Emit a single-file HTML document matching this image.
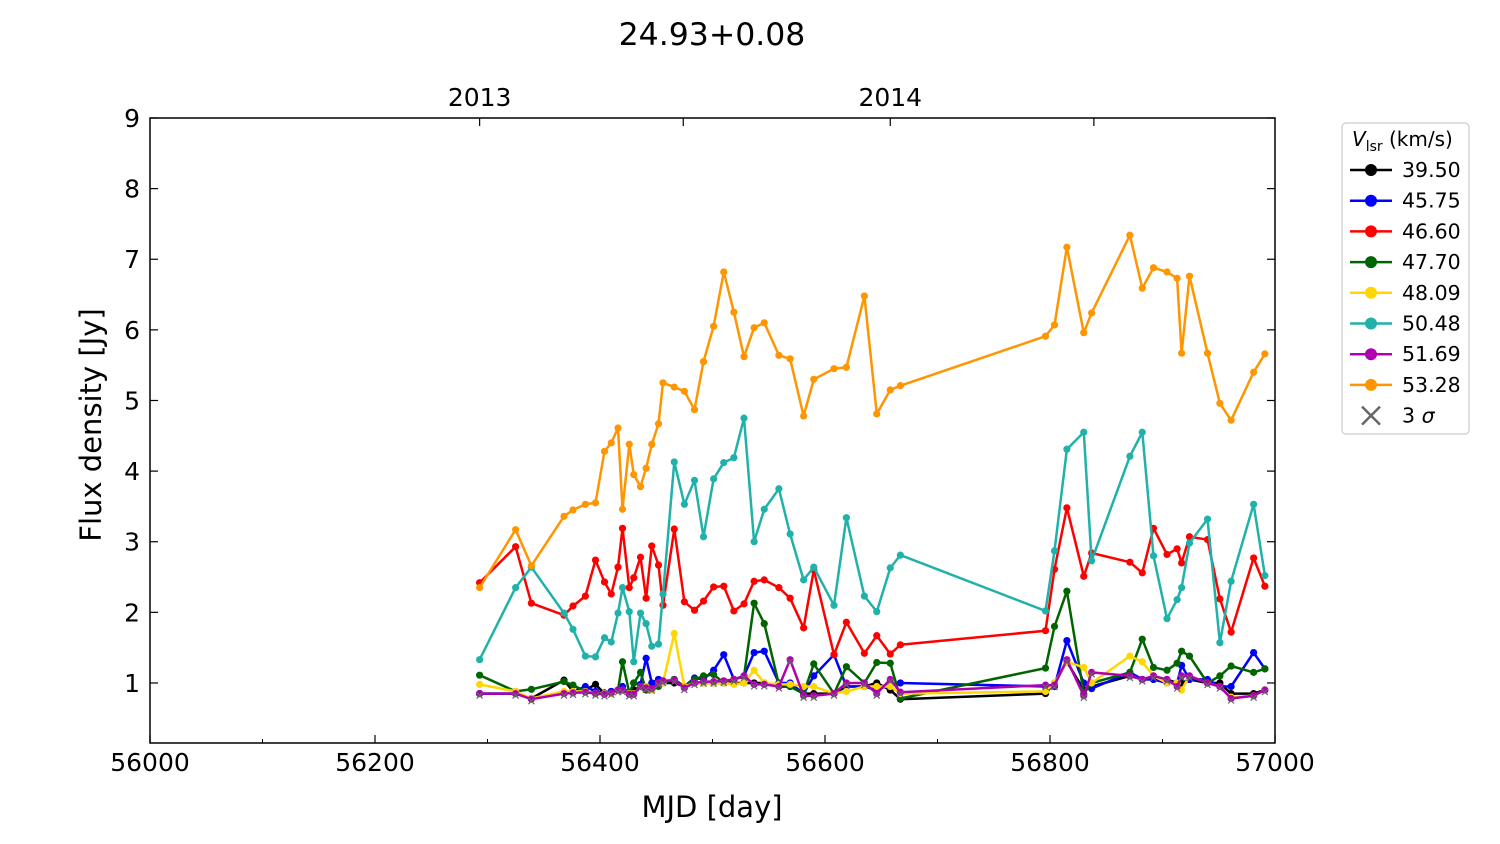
<!DOCTYPE html>
<html><head><meta charset="utf-8"><style>
html,body{margin:0;padding:0;background:#fff;}
svg{display:block;font-family:"DejaVu Sans","Liberation Sans",sans-serif;}
</style></head><body>
<svg id="chart" width="1500" height="844" viewBox="0 0 1500 844"></svg>
<script>
const mjd=[56293,56325,56339,56368,56376,56387,56396,56404,56410,56416,56420,56426,56430,56436,56441,56446,56452,56456,56466,56475,56484,56492,56501,56510,56519,56528,56537,56546,56559,56569,56581,56590,56608,56619,56635,56646,56658,56667,56796,56804,56815,56830,56837,56871,56882,56892,56904,56913,56917,56924,56940,56951,56961,56981,56991];
const s3950=[0.85,0.85,0.78,1.04,0.88,0.9,0.98,0.85,0.88,0.9,0.9,0.85,0.9,0.95,0.95,0.95,1.05,1.0,1.0,0.95,1.0,1.0,1.0,1.0,1.0,1.0,1.0,1.0,0.95,0.95,0.85,0.85,0.85,0.95,0.95,1.0,0.9,0.77,0.85,1.0,1.3,0.9,0.95,1.1,1.05,1.05,1.05,1.0,1.0,1.05,1.0,1.0,0.85,0.85,0.9];
const s4575=[0.85,0.85,0.78,0.87,0.88,0.95,0.88,0.86,0.88,0.9,0.95,0.85,1.0,0.98,1.35,1.0,1.05,1.0,1.05,0.95,1.07,1.05,1.18,1.4,1.05,1.1,1.43,1.45,1.0,1.0,0.85,1.1,1.4,0.95,0.95,0.9,0.98,1.0,0.95,0.95,1.6,1.0,0.92,1.15,1.05,1.05,1.0,1.0,1.25,1.05,1.05,0.95,0.95,1.43,1.2];
const s4660=[2.42,2.93,2.13,1.96,2.09,2.23,2.74,2.43,2.26,2.64,3.19,2.35,2.49,2.78,2.20,2.94,2.67,2.10,3.18,2.15,2.03,2.16,2.36,2.37,2.02,2.12,2.44,2.46,2.35,2.20,1.78,2.60,1.40,1.86,1.42,1.67,1.41,1.54,1.74,2.61,3.48,2.51,2.84,2.71,2.56,3.19,2.82,2.90,2.70,3.07,3.03,2.19,1.72,2.77,2.37];
const s4770=[1.11,0.88,0.91,1.02,0.97,0.88,0.86,0.85,0.86,0.9,1.3,0.86,1.0,1.15,0.9,0.9,0.95,1.0,1.05,0.95,1.05,1.1,1.12,1.0,1.05,1.09,2.13,1.84,0.98,0.95,0.85,1.27,0.85,1.23,1.0,1.29,1.28,0.78,1.21,1.8,2.3,0.85,1.0,1.15,1.62,1.22,1.18,1.28,1.45,1.38,1.0,1.1,1.24,1.15,1.2];
const s4809=[0.98,0.88,0.78,0.88,0.88,0.88,0.85,0.85,0.85,0.9,0.9,0.85,0.85,0.95,0.95,0.9,1.0,1.0,1.7,0.95,1.0,1.0,1.0,1.0,0.98,1.0,1.18,1.0,0.98,0.98,0.95,0.95,0.85,0.88,0.95,0.95,0.95,0.85,0.88,1.0,1.3,1.22,1.0,1.38,1.3,1.1,1.0,1.0,0.9,1.1,1.0,0.95,0.8,0.82,0.9];
const s5048=[1.33,2.35,2.64,1.99,1.76,1.38,1.37,1.64,1.58,1.99,2.35,2.01,1.30,1.99,1.84,1.52,1.55,2.26,4.13,3.53,3.87,3.07,3.89,4.12,4.19,4.75,3.00,3.46,3.75,3.11,2.46,2.64,2.10,3.34,2.23,2.01,2.63,2.81,2.02,2.87,4.31,4.55,2.73,4.21,4.55,2.80,1.91,2.18,2.35,2.98,3.32,1.57,2.44,3.53,2.52];
const s5169=[0.85,0.85,0.77,0.85,0.86,0.87,0.85,0.84,0.86,0.9,0.9,0.84,0.84,0.95,0.93,0.92,1.0,1.03,1.04,0.93,1.0,1.02,1.02,1.03,1.05,1.1,0.98,0.98,0.95,1.33,0.82,0.82,0.85,1.0,1.0,0.85,1.05,0.87,0.97,0.97,1.33,0.82,1.15,1.1,1.05,1.1,1.05,0.95,1.1,1.1,1.0,0.95,0.78,0.82,0.9];
const s5328=[2.35,3.17,2.66,3.36,3.45,3.53,3.55,4.28,4.40,4.61,3.46,4.38,3.95,3.78,4.04,4.38,4.67,5.25,5.19,5.13,4.87,5.55,6.05,6.82,6.25,5.62,6.03,6.10,5.64,5.59,4.78,5.30,5.45,5.47,6.48,4.81,5.15,5.21,5.91,6.07,7.17,5.96,6.24,7.34,6.59,6.88,6.82,6.73,5.67,6.76,5.67,4.96,4.72,5.40,5.66];
const seriesNames=["39.50","45.75","46.60","47.70","48.09","50.48","51.69","53.28"];
const seriesVals=[s3950,s4575,s4660,s4770,s4809,s5048,s5169,s5328];
const seriesColors=["#000000","#0000ff","#ff0000","#006400","#ffd700","#20b2aa","#b000b0","#ff9500"];
const xTicks=[56000,56200,56400,56600,56800,57000];
const yTicks=[1,2,3,4,5,6,7,8,9];
const yearMjd=[56293,56658];
const yearLabels=["2013","2014"];

const L=150,R=1275,T=118,B=743,X0=56000,X1=57000,Y0=0.15,Y1=9;
const xs=v=>L+(v-X0)/(X1-X0)*(R-L);
const ys=v=>B-(v-Y0)/(Y1-Y0)*(B-T);
const svg=document.getElementById('chart');
const NS="http://www.w3.org/2000/svg";
function mk(tag,attrs,parent){const e=document.createElementNS(NS,tag);for(const k in attrs)e.setAttribute(k,attrs[k]);(parent||svg).appendChild(e);return e;}

const gS=mk('g',{});


seriesVals.forEach((vals,si)=>{
  const g=mk('g',{},gS);
  
  
  const pts=vals.map((v,i)=>xs(mjd[i]).toFixed(1)+','+ys(v).toFixed(1)).join(' ');
  const pl=mk('polyline',{points:pts,fill:'none',stroke:seriesColors[si],'stroke-width':2.5,'stroke-linejoin':'round'},g);
  
  
  vals.forEach((v,i)=>{
    const c=mk('circle',{cx:xs(mjd[i]),cy:ys(v),r:3.6,fill:seriesColors[si]},g);
    
    
  });
});
const gX=mk('g',{stroke:'#666','stroke-width':1.2});


s5169.forEach((v,i)=>{
  const x=xs(mjd[i]),y=ys(v)+2;
  mk('path',{d:`M${x-3},${y-3}L${x+3},${y+3}M${x-3},${y+3}L${x+3},${y-3}`},gX);
});

const fr=mk('rect',{x:L,y:T,width:R-L,height:B-T,fill:'none',stroke:'#000','stroke-width':1.5});


xTicks.forEach(t=>{
  const x=xs(t);
  mk('line',{x1:x,y1:B,x2:x,y2:B-8,stroke:'#000','stroke-width':1.2});
  const tx=mk('text',{x:x,y:B+28,'font-size':25,'text-anchor':'middle'});
  tx.textContent=t;
  
  
});
for(let t=56100;t<57000;t+=200){const x=xs(t);mk('line',{x1:x,y1:B,x2:x,y2:B-4,stroke:'#000','stroke-width':1});}
[56293,56474,56658,56839].forEach(t=>{const x=xs(t);mk('line',{x1:x,y1:T,x2:x,y2:T+8,stroke:'#000','stroke-width':1.2});});
yearMjd.forEach((t,i)=>{
  const tx=mk('text',{x:xs(t),y:T-12,'font-size':25,'text-anchor':'middle'});
  tx.textContent=yearLabels[i];
  
  
});
yTicks.forEach(t=>{
  const y=ys(t);
  mk('line',{x1:L,y1:y,x2:L+8,y2:y,stroke:'#000','stroke-width':1.2});
  mk('line',{x1:R,y1:y,x2:R-8,y2:y,stroke:'#000','stroke-width':1.2});
  const tx=mk('text',{x:L-10,y:y+9,'font-size':25,'text-anchor':'end'});
  tx.textContent=t;
  
  
});
</script>
<script>
const s2=document.getElementById('chart');
function add(html){s2.insertAdjacentHTML('beforeend',html);}
add('<text x="712" y="45" font-size="31.5" text-anchor="middle">24.93+0.08</text>');
add('<text x="712" y="817" font-size="29" text-anchor="middle">MJD [day]</text>');
add('<text transform="translate(101,425) rotate(-90)" font-size="29" text-anchor="middle">Flux density [Jy]</text>');
let lg='<g><rect x="1342" y="123" width="127" height="311" rx="4" fill="#fff" stroke="#ccc" stroke-width="1.2"/>';
lg+='<text x="1352" y="146" font-size="20"><tspan font-style="italic">V</tspan><tspan font-size="14" dy="5">lsr</tspan><tspan dy="-5"> (km/s)</tspan></text>';
seriesNames.forEach((n,i)=>{
  const y=170+i*30.7;
  lg+=`<g><line x1="1350" y1="${y}" x2="1392" y2="${y}" stroke="${seriesColors[i]}" stroke-width="2.5"/><circle cx="1371" cy="${y}" r="6" fill="${seriesColors[i]}"/><text x="1402" y="${y+7}" font-size="20.5">${n}</text></g>`;
});
const yx=170+8*30.7;
lg+=`<g><path d="M1362,${yx-9}L1380,${yx+9}M1362,${yx+9}L1380,${yx-9}" stroke="#666" stroke-width="2.5"/><text x="1402" y="${yx+7}" font-size="20.5">3 <tspan font-style="italic">σ</tspan></text></g></g>`;
add(lg);
</script>
</body></html>
